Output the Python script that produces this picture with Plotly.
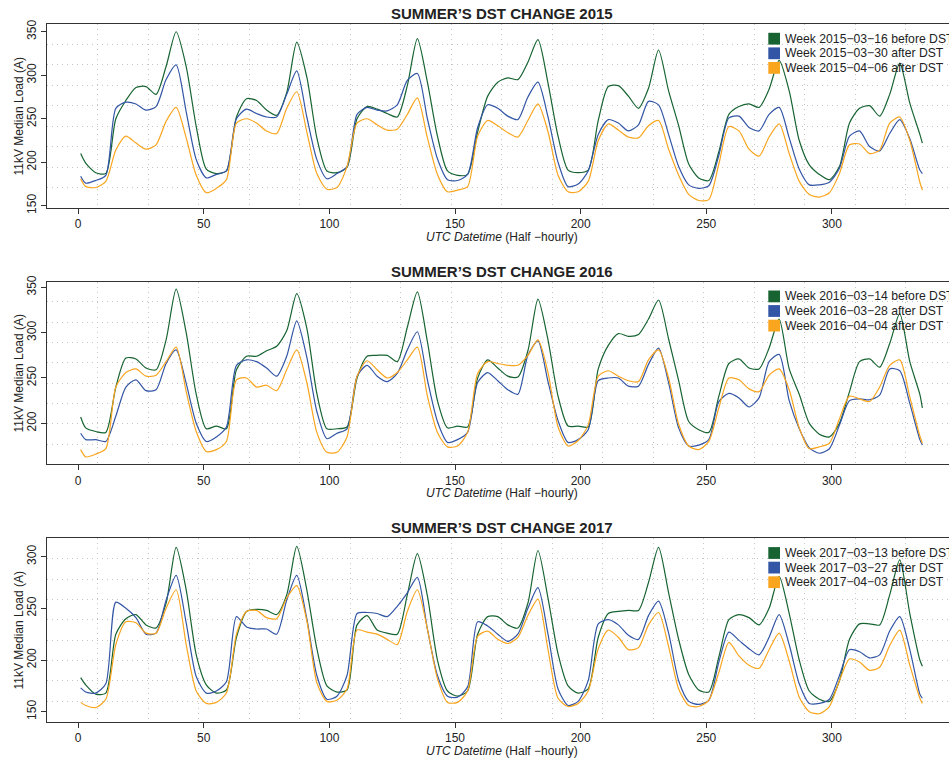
import plotly.graph_objects as go

W, H = 949, 760

# half-hour index (x) at which values were read
t = [1] + list(range(3, 336, 4)) + [336]

# ---- 2015 ----
g15 = [210, 199, 188, 187, 250, 271, 286, 287, 278, 310,
       350, 310, 241, 192, 187, 190, 252, 273, 271, 260,
       254, 280, 338, 298, 228, 190, 188, 194, 250, 264,
       261, 256, 252, 288, 342, 292, 230, 190, 185, 186,
       235, 276, 292, 297, 295, 315, 341, 291, 230, 191,
       188, 191, 248, 287, 288, 276, 262, 285, 329, 282,
       242, 198, 182, 179, 212, 255, 264, 267, 263, 284,
       317, 282, 225, 197, 186, 180, 195, 245, 262, 265,
       253, 278, 314, 268, 232, 222]
b15 = [184, 176, 179, 185, 262, 269, 267, 260, 264, 295,
       312, 258, 203, 182, 186, 190, 250, 261, 256, 252,
       252, 278, 305, 252, 203, 181, 187, 195, 255, 263,
       260, 259, 266, 294, 302, 250, 204, 180, 179, 186,
       240, 266, 262, 253, 249, 275, 292, 252, 200, 172,
       175, 190, 232, 249, 245, 236, 243, 270, 266, 232,
       195, 174, 170, 173, 208, 251, 253, 240, 236, 255,
       263, 228, 192, 174, 174, 177, 193, 230, 236, 218,
       213, 233, 249, 227, 191, 187]
o15 = [181, 172, 171, 178, 214, 230, 222, 215, 220, 247,
       263, 228, 185, 165, 170, 180, 245, 250, 245, 236,
       233, 262, 281, 235, 187, 169, 171, 195, 245, 250,
       243, 237, 238, 255, 274, 228, 186, 166, 168, 172,
       230, 248, 242, 234, 229, 248, 267, 235, 185, 166,
       166, 178, 225, 244, 237, 229, 228, 242, 248, 215,
       185, 163, 156, 157, 198, 241, 236, 215, 207, 229,
       244, 210, 178, 163, 160, 165, 187, 220, 221, 210,
       214, 245, 252, 225, 177, 168]

# ---- 2016 ----
g16 = [207, 195, 191, 190, 240, 272, 271, 261, 259, 292,
       348, 300, 232, 194, 197, 194, 259, 274, 274, 280,
       285, 302, 343, 305, 233, 194, 194, 196, 250, 274,
       275, 275, 268, 306, 345, 290, 225, 195, 197, 196,
       250, 270, 261, 252, 251, 280, 337, 292, 230, 197,
       197, 196, 260, 286, 299, 296, 298, 315, 336, 293,
       247, 202, 193, 190, 230, 266, 271, 261, 260, 283,
       315, 260, 232, 200, 188, 185, 200, 235, 268, 271,
       262, 288, 321, 268, 232, 217]
b16 = [189, 182, 182, 180, 208, 240, 248, 236, 237, 266,
       281, 244, 200, 180, 185, 196, 264, 270, 268, 261,
       252, 274, 313, 273, 213, 183, 189, 194, 252, 264,
       252, 246, 255, 281, 301, 248, 202, 179, 182, 190,
       245, 256, 247, 237, 232, 275, 291, 246, 203, 179,
       182, 193, 247, 250, 250, 241, 241, 265, 283, 245,
       195, 175, 176, 182, 224, 233, 228, 218, 228, 268,
       276, 225, 194, 173, 167, 172, 198, 225, 227, 226,
       231, 260, 258, 222, 182, 176]
o16 = [171, 163, 166, 172, 240, 256, 260, 252, 253, 268,
       284, 235, 191, 169, 171, 180, 248, 250, 240, 242,
       236, 259, 281, 245, 190, 168, 168, 185, 252, 269,
       259, 250, 256, 270, 284, 230, 190, 174, 175, 190,
       255, 268, 266, 264, 264, 275, 292, 256, 196, 175,
       181, 198, 252, 258, 252, 247, 246, 270, 281, 250,
       199, 175, 171, 180, 217, 250, 248, 238, 235, 253,
       260, 237, 195, 172, 174, 178, 205, 230, 227, 224,
       240, 264, 270, 229, 186, 178]

# ---- 2017 ----
g17 = [183, 176, 167, 168, 225, 240, 244, 234, 231, 255,
       309, 268, 205, 176, 168, 171, 222, 247, 249, 248,
       244, 263, 310, 268, 211, 175, 169, 171, 234, 243,
       229, 226, 225, 263, 303, 262, 200, 170, 165, 170,
       225, 242, 242, 234, 231, 255, 306, 260, 206, 175,
       168, 172, 222, 245, 247, 248, 248, 275, 309, 265,
       220, 186, 171, 169, 203, 239, 244, 241, 234, 250,
       281, 245, 200, 170, 162, 160, 180, 220, 235, 235,
       234, 263, 297, 245, 200, 194]
b17 = [173, 169, 168, 177, 256, 250, 241, 225, 226, 258,
       282, 236, 184, 168, 170, 179, 242, 232, 230, 230,
       225, 258, 282, 240, 185, 162, 165, 185, 245, 246,
       245, 242, 252, 265, 280, 230, 185, 165, 164, 174,
       237, 233, 225, 218, 225, 250, 270, 225, 172, 156,
       160, 180, 235, 239, 234, 224, 220, 243, 257, 226,
       180, 160, 157, 161, 198, 227, 219, 211, 205, 222,
       244, 215, 177, 158, 158, 162, 185, 210, 208, 202,
       205, 228, 242, 210, 167, 163]
o17 = [159, 156, 154, 162, 215, 237, 236, 226, 226, 250,
       268, 215, 170, 158, 159, 168, 225, 247, 248, 241,
       240, 260, 272, 238, 178, 160, 161, 172, 229, 227,
       225, 220, 215, 247, 268, 230, 182, 159, 159, 170,
       223, 228, 220, 216, 222, 243, 259, 210, 163, 155,
       158, 170, 211, 229, 222, 210, 212, 234, 246, 213,
       172, 156, 155, 161, 188, 217, 204, 195, 192, 210,
       226, 199, 164, 150, 148, 155, 180, 201, 198, 190,
       193, 214, 229, 195, 163, 158]

titles = ["SUMMER’S DST CHANGE 2015", "SUMMER’S DST CHANGE 2016", "SUMMER’S DST CHANGE 2017"]
labels15 = ["Week 2015−03−16 before DST", "Week 2015−03−30 after DST", "Week 2015−04−06 after DST"]
labels16 = ["Week 2016−03−14 before DST", "Week 2016−03−28 after DST", "Week 2016−04−04 after DST"]
labels17 = ["Week 2017−03−13 before DST", "Week 2017−03−27 after DST", "Week 2017−04−03 after DST"]
y_title = "11kV Median Load (A)"
x_title = "<i>UTC Datetime</i> (Half −hourly)"

COLORS = ["#176432", "#3255A5", "#F9A51E"]
AX = "#333333"
TXT = "#222222"
GRID = "#c4c4c4"
FONT = "Liberation Sans, Arial, Helvetica, sans-serif"

panels = [
    dict(series=[g15, b15, o15], labels=labels15, title=titles[0], top=24.0, bottom=208.0, yr=[147.4, 358.9]),
    dict(series=[g16, b16, o16], labels=labels16, title=titles[1], top=281.7, bottom=464.3, yr=[154.8, 356.2]),
    dict(series=[g17, b17, o17], labels=labels17, title=titles[2], top=538.3, bottom=721.7, yr=[140.3, 317.8]),
]

X_LEFT = 47.0
X_RANGE = [-12.4, 346.6]
X_GRID0, X_GRIDSTEP = -12.4, 20.1
X_CENTER = 501.5


def px_x(p):
    return p / W


def px_y(p):
    return 1 - p / H


fig = go.Figure()
annotations = []
shapes = []

for i, p in enumerate(panels, start=1):
    xa = "x" if i == 1 else f"x{i}"
    ya = "y" if i == 1 else f"y{i}"
    for s, c, name in zip(p["series"], COLORS, p["labels"]):
        fig.add_trace(go.Scatter(x=t, y=s, mode="lines", name=name, showlegend=False,
                                 line=dict(color=c, width=1.2, shape="spline", smoothing=0.7),
                                 xaxis=xa, yaxis=ya, hoverinfo="skip"))
    y0, y1 = p["yr"]
    xkey = "xaxis" if i == 1 else f"xaxis{i}"
    ykey = "yaxis" if i == 1 else f"yaxis{i}"
    fig.layout[xkey] = dict(
        domain=[px_x(X_LEFT), 1.0], anchor=ya, range=X_RANGE,
        tickmode="linear", tick0=0, dtick=50, ticks="outside", ticklen=5,
        tickwidth=1, tickcolor=AX, showline=True, linecolor=AX, linewidth=1,
        mirror=True, showgrid=False, zeroline=False,
        tickfont=dict(size=12, color=TXT, family=FONT),
        minor=dict(tickmode="linear", tick0=X_GRID0, dtick=X_GRIDSTEP, showgrid=True,
                   gridcolor=GRID, griddash="1px,4px", gridwidth=1, ticks=""),
    )
    fig.layout[ykey] = dict(
        domain=[px_y(p["bottom"]), px_y(p["top"])], anchor=xa, range=[y0, y1],
        tickmode="linear", tick0=0, dtick=50, ticks="outside", ticklen=5,
        tickwidth=1, tickcolor=AX, showline=True, linecolor=AX, linewidth=1,
        mirror=False, showgrid=False, zeroline=False, tickangle=-90,
        tickfont=dict(size=12, color=TXT, family=FONT),
        minor=dict(tickmode="linear", tick0=y0, dtick=(y1 - y0) / 9, showgrid=True,
                   gridcolor=GRID, griddash="1px,4px", gridwidth=1, ticks=""),
    )
    # title
    annotations.append(dict(text=f"<b>{p['title']}</b>", x=px_x(X_CENTER), y=px_y(p["top"] - 10.5),
                            xref="paper", yref="paper", xanchor="center", yanchor="middle",
                            showarrow=False, font=dict(size=15, color=TXT, family=FONT)))
    # y axis title
    annotations.append(dict(text=y_title, x=px_x(18.5), y=px_y((p["top"] + p["bottom"]) / 2),
                            xref="paper", yref="paper", xanchor="center", yanchor="middle",
                            textangle=-90, showarrow=False,
                            font=dict(size=12, color=TXT, family=FONT)))
    # x axis title
    annotations.append(dict(text=x_title, x=px_x(X_CENTER), y=px_y(p["bottom"] + 29),
                            xref="paper", yref="paper", xanchor="center", yanchor="middle",
                            showarrow=False, font=dict(size=12, color=TXT, family=FONT)))
    # legend (keys + labels)
    for k, (c, lab) in enumerate(zip(COLORS, p["labels"])):
        cy = p["top"] + 14.7 + 14.6 * k
        shapes.append(dict(type="rect", xref="paper", yref="paper",
                           x0=px_x(768.3), x1=px_x(780.0), y0=px_y(cy + 5.9), y1=px_y(cy - 5.9),
                           fillcolor=c, line=dict(width=0)))
        annotations.append(dict(text=lab, x=px_x(782.5), y=px_y(cy), xref="paper", yref="paper",
                                xanchor="left", yanchor="middle", showarrow=False,
                                font=dict(size=12.2, color=TXT, family=FONT)))

fig.update_layout(
    width=W, height=H, margin=dict(l=0, r=0, t=0, b=0, autoexpand=False),
    paper_bgcolor="white", plot_bgcolor="white",
    font=dict(family=FONT, size=12, color=TXT),
    annotations=annotations, shapes=shapes, showlegend=False,
)

fig.write_html("out.html", include_plotlyjs=True, full_html=True,
               config=dict(displayModeBar=False))
